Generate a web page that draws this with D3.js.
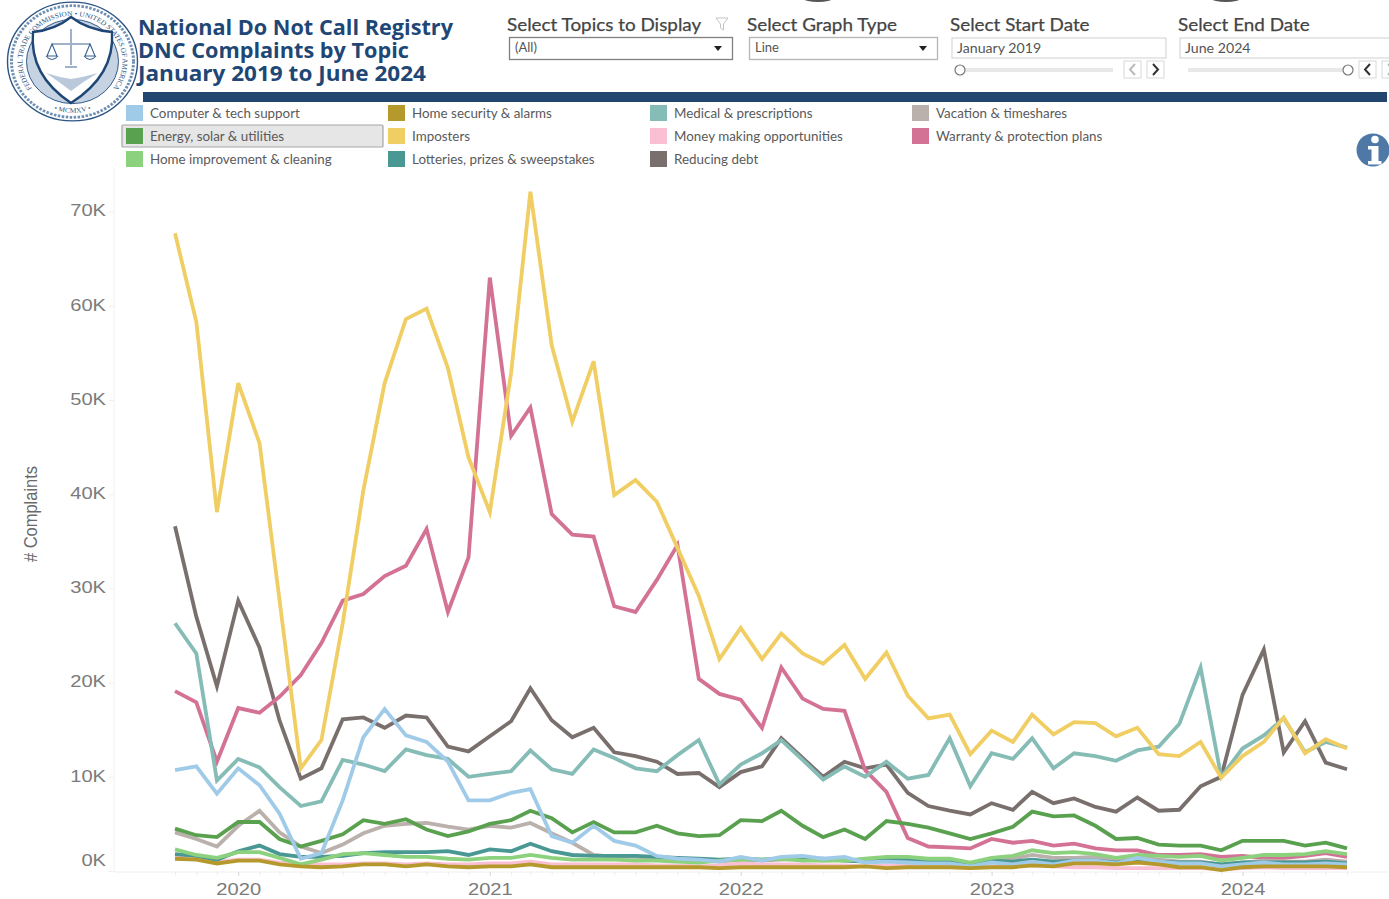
<!DOCTYPE html>
<html>
<head>
<meta charset="utf-8">
<script src="https://cdn.jsdelivr.net/npm/d3@7"></script>
<style>
  html, body { margin: 0; padding: 0; background: #fff; overflow: hidden; }
  svg { display: block; }
</style>
</head>
<body>
<div id="chart"></div>
<script>
const titleLines = ['National Do Not Call Registry', 'DNC Complaints by Topic', 'January 2019 to June 2024'];
const yTicks = [0, 10, 20, 30, 40, 50, 60, 70];
const xYears = [2020, 2021, 2022, 2023, 2024];

// complaints per month in thousands, Oct 2019 to Jun 2024
const computerTech = [10.7, 11.1, 8.2, 10.9, 9.1, 6.1, 1.3, 1.9, 7.5, 14.2, 17.2, 14.4, 13.7, 11.6, 7.5, 7.5, 8.3, 8.7, 3.7, 3.0, 4.8, 3.2, 2.7, 1.6, 1.3, 1.2, 1.0, 1.5, 1.1, 1.5, 1.6, 1.3, 1.5, 0.9, 1.0, 0.9, 0.8, 0.8, 0.5, 0.9, 0.7, 1.0, 0.7, 1.1, 1.1, 0.8, 1.4, 1.0, 0.8, 0.8, 0.5, 0.7, 0.9, 0.7, 0.7, 0.8, 0.7];
const energySolar = [4.5, 3.8, 3.6, 5.2, 5.2, 3.4, 2.6, 3.2, 3.9, 5.4, 5.0, 5.5, 4.4, 3.7, 4.2, 5.0, 5.4, 6.4, 5.6, 4.1, 5.2, 4.1, 4.1, 4.8, 4.0, 3.7, 3.8, 5.4, 5.3, 6.4, 4.8, 3.6, 4.4, 3.4, 5.3, 5.0, 4.6, 4.0, 3.4, 4.0, 4.7, 6.3, 5.8, 5.9, 4.8, 3.4, 3.5, 2.8, 2.7, 2.7, 2.2, 3.2, 3.2, 3.2, 2.7, 3.0, 2.4];
const homeImprovement = [2.3, 1.7, 1.4, 2.0, 2.0, 1.4, 0.7, 1.2, 1.8, 1.9, 1.7, 1.5, 1.5, 1.3, 1.2, 1.4, 1.4, 1.7, 1.4, 1.2, 1.2, 1.2, 1.1, 1.1, 1.0, 0.9, 1.1, 1.2, 1.2, 1.3, 1.1, 1.1, 1.1, 1.3, 1.5, 1.5, 1.3, 1.3, 0.9, 1.4, 1.6, 2.2, 1.9, 2.0, 1.8, 1.4, 1.7, 1.6, 1.5, 1.6, 1.1, 1.4, 1.7, 1.7, 1.8, 2.1, 1.8];
const homeSecurity = [1.3, 1.2, 0.8, 1.1, 1.1, 0.7, 0.5, 0.4, 0.5, 0.7, 0.7, 0.5, 0.7, 0.5, 0.4, 0.5, 0.5, 0.7, 0.4, 0.4, 0.4, 0.4, 0.4, 0.4, 0.4, 0.4, 0.3, 0.4, 0.4, 0.4, 0.4, 0.4, 0.4, 0.5, 0.3, 0.4, 0.4, 0.4, 0.3, 0.4, 0.4, 0.6, 0.5, 0.8, 0.8, 0.7, 0.9, 0.7, 0.4, 0.4, 0.1, 0.4, 0.5, 0.5, 0.5, 0.5, 0.4];
const imposters = [67.7, 58.3, 38.1, 51.8, 45.4, 28.8, 10.9, 13.9, 26.3, 40.4, 51.8, 58.6, 59.7, 53.4, 43.9, 38.1, 52.9, 72.1, 55.8, 47.7, 54.1, 39.9, 41.5, 39.2, 34.3, 29.2, 22.5, 25.8, 22.5, 25.2, 23.1, 22.0, 24.0, 20.4, 23.2, 18.6, 16.2, 16.6, 12.4, 14.9, 13.7, 16.6, 14.5, 15.8, 15.7, 14.3, 15.2, 12.4, 12.2, 13.7, 9.9, 12.2, 13.7, 16.3, 12.5, 14.0, 13.0];
const lotteries = [1.8, 1.6, 1.2, 2.1, 2.7, 1.8, 1.5, 1.5, 1.6, 1.9, 2.0, 2.0, 2.0, 2.1, 1.7, 2.3, 2.1, 2.9, 2.1, 1.7, 1.6, 1.6, 1.6, 1.5, 1.4, 1.3, 1.2, 1.3, 1.2, 1.3, 1.3, 1.3, 1.1, 1.0, 1.2, 1.2, 1.1, 1.0, 0.7, 1.1, 1.0, 1.2, 1.0, 1.1, 1.1, 0.9, 1.2, 1.0, 0.9, 0.9, 0.7, 0.9, 0.9, 0.9, 0.9, 1.0, 0.8];
const medical = [26.3, 23.1, 9.6, 11.9, 11.0, 8.9, 6.9, 7.4, 11.8, 11.3, 10.6, 12.9, 12.3, 11.9, 10.0, 10.3, 10.6, 12.8, 10.8, 10.3, 12.9, 12.0, 10.9, 10.6, 12.3, 13.9, 9.2, 11.3, 12.5, 13.9, 11.8, 9.7, 11.1, 10.0, 11.6, 9.8, 10.2, 14.1, 9.0, 12.5, 11.9, 14.1, 10.9, 12.5, 12.2, 11.7, 12.8, 13.2, 15.6, 21.6, 10.0, 13.0, 14.4, 16.2, 12.6, 13.7, 13.1];
const moneyMaking = [1.6, 1.4, 1.0, 1.2, 1.2, 0.9, 0.7, 0.7, 0.7, 0.8, 0.8, 0.7, 0.8, 0.7, 0.7, 0.8, 0.8, 1.0, 0.7, 0.7, 0.7, 0.7, 0.7, 0.6, 0.6, 0.5, 0.6, 0.8, 0.7, 0.7, 0.7, 0.6, 0.6, 0.5, 0.6, 0.6, 0.5, 0.5, 0.4, 0.5, 0.5, 0.6, 0.5, 0.4, 0.4, 0.3, 0.3, 0.3, 0.3, 0.3, 0.2, 0.3, 0.4, 0.3, 0.3, 0.3, 0.3];
const reducingDebt = [36.6, 27.0, 19.6, 28.7, 23.7, 16.0, 9.8, 10.9, 16.1, 16.3, 15.2, 16.5, 16.3, 13.2, 12.7, 14.3, 15.9, 19.4, 16.0, 14.2, 15.2, 12.6, 12.2, 11.6, 10.3, 10.4, 8.9, 10.5, 11.1, 14.1, 12.0, 10.0, 11.6, 10.9, 11.3, 8.3, 6.9, 6.4, 6.0, 7.2, 6.5, 8.4, 7.2, 7.7, 6.8, 6.3, 7.8, 6.4, 6.5, 9.0, 10.0, 18.7, 23.5, 12.6, 15.9, 11.5, 10.8];
const vacation = [4.1, 3.4, 2.6, 4.8, 6.4, 4.1, 2.6, 1.9, 2.8, 4.0, 4.8, 5.0, 5.1, 4.7, 4.4, 4.8, 4.6, 5.1, 4.0, 3.0, 1.7, 1.5, 1.5, 1.4, 1.2, 1.1, 1.0, 1.2, 1.1, 1.2, 1.3, 1.1, 1.2, 1.0, 1.1, 1.1, 1.0, 1.0, 0.7, 1.1, 1.3, 1.7, 1.4, 1.4, 1.5, 1.1, 1.5, 1.2, 1.0, 1.0, 0.7, 0.9, 1.1, 1.0, 1.0, 1.2, 1.0];
const warranty = [19.1, 17.9, 11.6, 17.3, 16.8, 18.5, 20.8, 24.2, 28.7, 29.4, 31.3, 32.4, 36.3, 27.5, 33.3, 63.0, 46.2, 49.2, 37.9, 35.7, 35.5, 28.1, 27.5, 30.9, 34.6, 20.4, 18.8, 18.2, 15.2, 21.6, 18.3, 17.2, 17.0, 10.7, 8.4, 3.5, 2.6, 2.5, 2.4, 3.4, 3.0, 3.2, 2.7, 2.9, 2.4, 2.2, 2.2, 1.7, 1.7, 1.8, 1.5, 1.6, 1.4, 1.4, 1.6, 1.9, 1.5];

const topics = ['Computer & tech support', 'Energy, solar & utilities', 'Home improvement & cleaning', 'Home security & alarms', 'Imposters', 'Lotteries, prizes & sweepstakes', 'Medical & prescriptions', 'Money making opportunities', 'Reducing debt', 'Vacation & timeshares', 'Warranty & protection plans'];
const topicColors = ['#A0CBE8', '#59A14F', '#8CD17D', '#B6992D', '#F1CE63', '#499894', '#86BCB6', '#FABFD2', '#79706E', '#BAB0AC', '#D37295'];
const topicValues = [computerTech, energySolar, homeImprovement, homeSecurity, imposters, lotteries, medical, moneyMaking, reducingDebt, vacation, warranty];
// z-order as in the dashboard, back to front (indexes into topics)
const drawOrder = [8, 10, 9, 7, 5, 6, 1, 2, 0, 4, 3];

const months = d3.timeMonth.range(new Date(2019, 9, 1), new Date(2024, 6, 1));

const svg = d3.select('#chart')
  .append('svg')
    .attr('width', 1389)
    .attr('height', 899);

const stretch = (sel, k) => sel
  .attr('lengthAdjust', 'spacingAndGlyphs')
  .attr('textLength', function () { return this.getComputedTextLength() * k; });

// plot
const x = d3.scaleTime().domain([months[0], months[months.length - 1]]).range([175, 1347]);
const y = d3.scaleLinear().domain([0, 70]).range([871, 211.6]);

svg.append('line').attr('x1', 114).attr('x2', 1389).attr('y1', 872).attr('y2', 872).style('stroke', '#f0f0f0');
svg.append('line').attr('x1', 114).attr('x2', 114).attr('y1', 168).attr('y2', 872).style('stroke', '#f0f0f0');

const monthAxis = svg.append('g')
  .attr('transform', 'translate(0,872)')
  .call(d3.axisBottom(x).tickValues(months).tickSize(3).tickFormat(''));
monthAxis.select('.domain').remove();
monthAxis.selectAll('line').style('stroke', '#ececec');

const yearAxis = svg.append('g')
  .attr('transform', 'translate(0,872)')
  .call(d3.axisBottom(x).tickValues(xYears.map((d) => new Date(d, 0, 1))).tickSize(4).tickPadding(7).tickFormat(d3.timeFormat('%Y')));
yearAxis.select('.domain').remove();
yearAxis.selectAll('line').style('stroke', '#dcdcdc');
yearAxis.selectAll('text')
  .style('font-family', 'Liberation Sans')
  .style('font-size', '16.5px')
  .style('fill', '#7b7b7b')
  .call(stretch, 1.22);

const yAxis = svg.append('g')
  .attr('transform', 'translate(114,0)')
  .call(d3.axisLeft(y).tickValues(yTicks).tickSize(5).tickPadding(3).tickFormat((d) => d + 'K'));
yAxis.select('.domain').remove();
yAxis.selectAll('line').style('stroke', '#f0f0f0');
yAxis.selectAll('text')
  .style('font-family', 'Liberation Sans')
  .style('font-size', '16.5px')
  .style('fill', '#7b7b7b')
  .attr('dy', (d) => d === 0 ? '-0.32em' : '0.26em')
  .call(stretch, 1.22);

svg.append('text')
  .attr('transform', 'translate(37,514) rotate(-90)')
  .style('text-anchor', 'middle')
  .style('font-family', 'Liberation Sans')
  .style('font-size', '18px')
  .style('fill', '#6a6a6a')
  .text('# Complaints')
  .attr('lengthAdjust', 'spacingAndGlyphs')
  .attr('textLength', 96);

const line = d3.line()
  .x((d, i) => x(months[i]))
  .y((d) => y(d));

svg.selectAll('path.topic')
  .data(drawOrder).enter().append('path')
  .attr('class', 'topic')
  .attr('d', (d) => line(topicValues[d]))
  .style('fill', 'none')
  .style('stroke', (d) => topicColors[d])
  .style('stroke-width', 3.8)
  .style('stroke-linejoin', 'miter');

// legend
svg.append('rect')
  .attr('x', 122).attr('y', 125).attr('width', 261).attr('height', 22)
  .attr('rx', 1)
  .style('fill', '#e6e6e6').style('stroke', '#a5a5a5').style('stroke-width', 1.2);

const legend = svg.selectAll('g.legend')
  .data(topics).enter().append('g')
  .attr('class', 'legend')
  .attr('transform', (d, i) => 'translate(' + (126 + 262 * Math.floor(i / 3)) + ',' + (105 + 23 * (i % 3)) + ')');
legend.append('rect')
  .attr('width', 17).attr('height', 16)
  .style('fill', (d, i) => topicColors[i]);
legend.append('text')
  .attr('x', 24).attr('y', 13)
  .style('font-family', 'Lato')
  .style('font-size', '13.4px')
  .style('fill', '#5a5a5a')
  .text((d) => d);

// header
const titleWidths = [315, 271, 288];
svg.append('text')
  .selectAll('tspan')
  .data(titleLines).enter().append('tspan')
  .attr('x', 138)
  .attr('y', (d, i) => 35 + i * 23.2)
  .attr('textLength', (d, i) => titleWidths[i])
  .attr('lengthAdjust', 'spacingAndGlyphs')
  .style('font-family', 'Open Sans')
  .style('font-weight', 700)
  .style('font-size', '21.5px')
  .style('fill', '#1f4776')
  .text((d) => d);

svg.append('rect')
  .attr('x', 143).attr('y', 92).attr('width', 1244).attr('height', 10)
  .style('fill', '#234670');

// filter controls
const controlLabels = [['Select Topics to Display', 507], ['Select Graph Type', 747], ['Select Start Date', 950], ['Select End Date', 1178]];
svg.selectAll('text.control')
  .data(controlLabels).enter().append('text')
  .attr('class', 'control')
  .attr('x', (d) => d[1]).attr('y', 31)
  .style('font-family', 'Lato')
  .style('font-size', '18px')
  .style('fill', '#444')
  .style('stroke', '#444')
  .style('stroke-width', 0.25)
  .text((d) => d[0])
  .call(stretch, 1.048);

const dropdowns = [['(All)', 509, 223, '#808080'], ['Line', 749, 188, '#b5b5b5']];
const dropdown = svg.selectAll('g.dropdown')
  .data(dropdowns).enter().append('g')
  .attr('class', 'dropdown')
  .attr('transform', (d) => 'translate(' + d[1] + ',37)');
dropdown.append('rect')
  .attr('x', 0.5).attr('y', 0.5).attr('width', (d) => d[2]).attr('height', 22)
  .style('fill', '#fff').style('stroke', (d) => d[3]).style('stroke-width', 1.3);
dropdown.append('text')
  .attr('x', 6).attr('y', 15)
  .style('font-family', 'Lato').style('font-size', '13px').style('fill', '#555')
  .text((d) => d[0]);
dropdown.append('path')
  .attr('d', (d) => 'M' + (d[2] - 18) + ',9h8l-4,5z')
  .style('fill', '#222');

const dateBoxes = [['January 2019', 952, 214], ['June 2024', 1180, 214]];
svg.selectAll('g.date')
  .data(dateBoxes).enter().append('g')
  .attr('class', 'date')
  .attr('transform', (d) => 'translate(' + d[1] + ',38)')
  .call((g) => g.append('rect')
    .attr('width', (d) => d[2]).attr('height', 20)
    .style('fill', '#fff').style('stroke', '#d8d8d8').style('stroke-width', 1.2))
  .call((g) => g.append('text')
    .attr('x', 5).attr('y', 14.5)
    .style('font-family', 'Lato').style('font-size', '13px').style('fill', '#555')
    .text((d) => d[0])
    .call(stretch, 1.09));

const sliders = [[960, 1113, 960, 1124, '#bbb', '#333'], [1188, 1348, 1348, 1359, '#333', '#bbb']];
sliders.forEach((s) => {
  svg.append('rect').attr('x', s[0]).attr('y', 68).attr('width', s[1] - s[0]).attr('height', 4).style('fill', '#e8e8e8');
  svg.append('circle').attr('cx', s[2]).attr('cy', 70).attr('r', 5).style('fill', '#fff').style('stroke', '#777').style('stroke-width', 1.2);
  [0, 1].forEach((j) => {
    const bx = s[3] + j * 23;
    svg.append('rect').attr('x', bx).attr('y', 61).attr('width', 17).attr('height', 17).style('fill', '#fff').style('stroke', '#d8d8d8');
    svg.append('path')
      .attr('d', j === 0 ? 'M' + (bx + 11) + ',64l-5,5.5l5,5.5' : 'M' + (bx + 6) + ',64l5,5.5l-5,5.5')
      .style('fill', 'none').style('stroke', j === 0 ? s[4] : s[5]).style('stroke-width', 2);
  });
});

svg.append('path')
  .attr('d', 'M716,18h12l-4.5,6v6l-3,-2v-4z')
  .style('fill', '#fff').style('stroke', '#c4c4c4');

// cut off marks along the top edge of the screenshot
svg.selectAll('ellipse.cut')
  .data([818, 1226]).enter().append('ellipse')
  .attr('class', 'cut')
  .attr('cx', (d) => d).attr('cy', -1).attr('rx', 14).attr('ry', 3)
  .style('fill', '#555');

// info icon
svg.append('circle').attr('cx', 1373).attr('cy', 150).attr('r', 16.5).style('fill', '#4e79a7');
svg.append('circle').attr('cx', 1375).attr('cy', 139.5).attr('r', 3.8).style('fill', '#fff');
svg.append('path').attr('d', 'M1368,146h10.5v15h3v3.5h-13.5v-3.5h3.5v-11.5h-3.5z').style('fill', '#fff');

// FTC seal, squashed a little like the screenshot
const sealColor = '#2c5585';
const rings = svg.append('g').attr('transform', 'translate(72.5,61.5) scale(1,0.915)');
rings.append('circle').attr('r', 65).style('fill', '#fff').style('stroke', sealColor).style('stroke-width', 1.4);
rings.append('circle').attr('r', 61).style('fill', 'none').style('stroke', '#6f8fb3').style('stroke-width', 3).style('stroke-dasharray', '2.5 1.5');
rings.append('circle').attr('r', 46).style('fill', '#c5d3e3').style('stroke', sealColor);

const arcPoint = (r, deg) => (r * Math.sin(deg * Math.PI / 180)) + ',' + (-r * Math.cos(deg * Math.PI / 180));
rings.append('path').attr('id', 'sealTop').style('fill', 'none')
  .attr('d', 'M' + arcPoint(50, 215) + 'A50,50 0 1 1 ' + arcPoint(50, 145));
rings.append('path').attr('id', 'sealBottom').style('fill', 'none')
  .attr('d', 'M' + arcPoint(56, 215) + 'A56,56 0 0 0 ' + arcPoint(56, 145));
const sealText = (id, str) => rings.append('text')
  .style('font-family', 'Liberation Serif').style('font-size', '7.5px').style('fill', sealColor)
  .append('textPath')
    .attr('href', '#' + id)
    .attr('startOffset', '50%')
    .style('text-anchor', 'middle')
    .text(str);
sealText('sealTop', 'FEDERAL TRADE COMMISSION • UNITED STATES OF AMERICA');
sealText('sealBottom', '• MCMXV •');

const seal = svg.append('g').attr('transform', 'translate(72,61)');
seal.append('path')
  .attr('d', 'M-39,-29Q-17,-31 -1,-44Q16,-31 40,-29Q43,14 -1,42Q-43,14 -39,-29Z')
  .style('fill', '#fff').style('stroke', '#1f4776').style('stroke-width', 2.4);
seal.append('path')
  .attr('d', 'M-26,12Q-14,20 -1,30Q12,20 26,12Q12,16 -1,18Q-14,16 -26,12Z')
  .style('fill', '#b9c8da');
seal.append('path')
  .attr('d', 'M-1,-32V4M-7,6H5M-20,-17H18')
  .style('fill', 'none').style('stroke', '#9fb2c9').style('stroke-width', 2);
seal.append('path')
  .attr('d', 'M-20,-17L-25,-5H-15ZM18,-17L13,-5H23ZM-26,-5Q-20,2 -14,-5M12,-5Q18,2 24,-5')
  .style('fill', 'none').style('stroke', '#3b628f').style('stroke-width', 1.1);
</script>
</body>
</html>
